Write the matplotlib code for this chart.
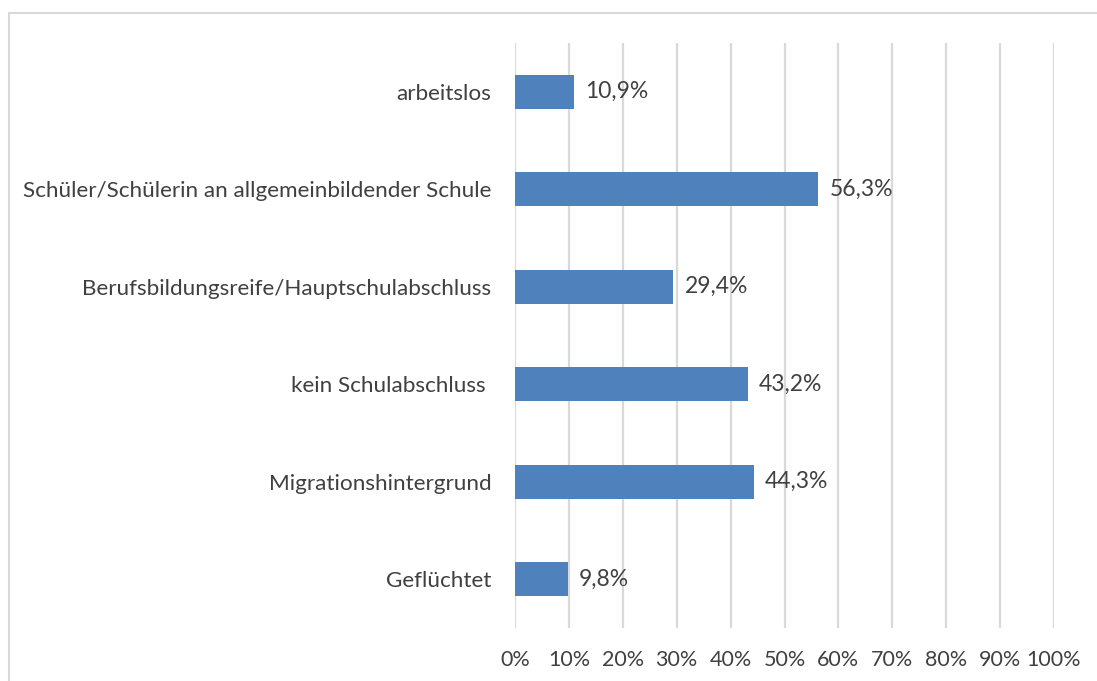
import matplotlib
matplotlib.use("Agg")
import matplotlib.pyplot as plt
from matplotlib.patches import Rectangle
from matplotlib.ticker import MultipleLocator, FuncFormatter

# ----- Daten -----
kategorien = [
    "arbeitslos",
    "Schüler/Schülerin an allgemeinbildender Schule",
    "Berufsbildungsreife/Hauptschulabschluss",
    "kein Schulabschluss ",
    "Migrationshintergrund",
    "Geflüchtet",
]
werte = [10.9, 56.3, 29.4, 43.2, 44.3, 9.8]
wert_labels = ["10,9%", "56,3%", "29,4%", "43,2%", "44,3%", "9,8%"]

plt.rcParams["font.family"] = ["Lato", "DejaVu Sans"]
textfarbe = "#404040"
balkenfarbe = "#4F81BD"
gitterfarbe = "#D9D9D9"

W, H = 1097, 681
fig = plt.figure(figsize=(W / 100, H / 100), dpi=100)
ax = fig.add_axes([515 / W, 1 - 628 / H, (1054 - 515) / W, (628 - 43) / H])

pos = list(range(len(kategorien)))
ax.barh(pos, werte, height=0.35, color=balkenfarbe, zorder=3)
for p, w, lab in zip(pos, werte, wert_labels):
    ax.annotate(lab, (w, p), xytext=(8, 0), textcoords="offset points",
                va="center", ha="left", fontsize=16.5, color=textfarbe)

ax.set_xlim(0, 100)
ax.set_ylim(len(kategorien) - 0.5, -0.5)
ax.set_yticks(pos)
ax.set_yticklabels(kategorien)
ax.xaxis.set_major_locator(MultipleLocator(10))
ax.xaxis.set_major_formatter(FuncFormatter(lambda v, _: f"{v:.0f}%"))
ax.grid(axis="x", color=gitterfarbe, linewidth=1.6, zorder=0)
ax.tick_params(axis="both", length=0, labelcolor=textfarbe)
ax.tick_params(axis="y", pad=17, labelsize=16.2)
ax.tick_params(axis="x", pad=16, labelsize=15.5)
for s in ax.spines.values():
    s.set_visible(False)

# Rahmen um das Diagramm
fig.patches.append(Rectangle((9 / W, -0.1), 1.2, 1.1 - 13 / H, transform=fig.transFigure,
                             fill=False, edgecolor=gitterfarbe, linewidth=1.5))

fig.savefig("out.png", dpi=100)
